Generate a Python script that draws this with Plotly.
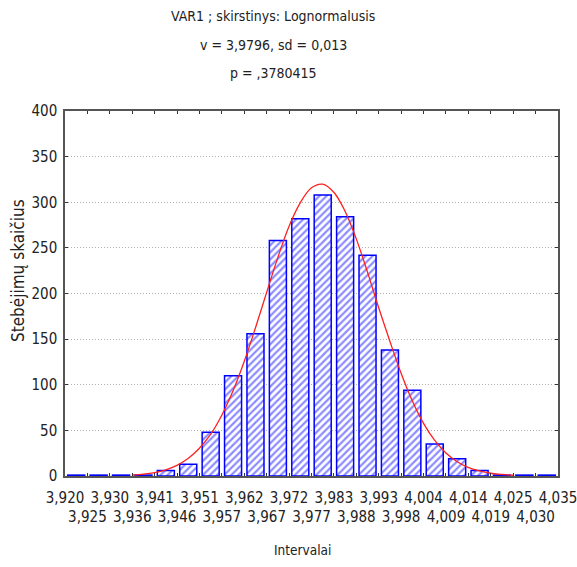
import plotly.graph_objects as go

# Bin boundaries (intervals) and their printed labels
bin_edges = [3.92 + k * 0.115 / 22 for k in range(23)]
edge_labels = ["3,920", "3,925", "3,930", "3,936", "3,941", "3,946", "3,951", "3,957",
               "3,962", "3,967", "3,972", "3,977", "3,983", "3,988", "3,993", "3,998",
               "4,004", "4,009", "4,014", "4,019", "4,025", "4,030", "4,035"]

# Observed counts per interval
counts = [1, 1, 1, 1, 6, 13, 48, 110, 156, 258, 282, 308, 284, 242, 138, 94, 35, 19, 6, 1, 1, 1]

# Fitted lognormal curve
curve_x = [3.9357, 3.9383, 3.9409, 3.9435, 3.9461, 3.9487, 3.9513, 3.9540, 3.9566,
           3.9592, 3.9618, 3.9644, 3.9670, 3.9696, 3.9722, 3.9749, 3.9775, 3.9801,
           3.9827, 3.9853, 3.9879, 3.9905, 3.9931, 3.9958, 3.9984, 4.0010, 4.0036,
           4.0062, 4.0088, 4.0114, 4.0140, 4.0167, 4.0193, 4.0219, 4.0245]
curve_y = [1.1, 2.1, 3.8, 6.8, 11.7, 19.2, 30.2, 45.9, 66.9, 93.4, 125.5, 162.0,
           200.7, 238.8, 273.0, 299.6, 315.9, 319.8, 310.9, 290.4, 260.4, 224.3,
           185.5, 147.4, 112.5, 82.4, 58.0, 39.2, 25.5, 15.9, 9.5, 5.5, 3.0, 1.8, 0.8]

title_lines = ["VAR1 ; skirstinys: Lognormalusis", "v = 3,9796, sd = 0,013", "p = ,3780415"]
x_title = "Intervalai"
y_title = "Stebėjimų skaičius"

FONT = "Liberation Sans Narrow, Arial Narrow, DejaVu Sans Condensed, sans-serif"

centers = [(bin_edges[i] + bin_edges[i + 1]) / 2 for i in range(len(counts))]
width = bin_edges[1] - bin_edges[0]

fig = go.Figure()
fig.add_trace(go.Bar(
    x=centers, y=counts, width=width * 0.76,
    marker=dict(color="white",
                line=dict(color="#0000ff", width=1.5),
                pattern=dict(shape="/", fgcolor="#1a1aff", bgcolor="white",
                             size=5, solidity=0.45)),
    showlegend=False,
))
fig.add_trace(go.Scatter(
    x=curve_x, y=curve_y, mode="lines", line=dict(color="#ff2020", width=1.3),
    line_shape="spline", showlegend=False,
))

ticktext = [lab if i % 2 == 0 else "<br>" + lab for i, lab in enumerate(edge_labels)]

fig.update_layout(
    width=577, height=567,
    margin=dict(l=65, r=19, t=111, b=91, autoexpand=False),
    plot_bgcolor="white", paper_bgcolor="white",
    font=dict(family=FONT, size=15, color="#222"),
    xaxis=dict(range=[bin_edges[0] - 1e-6, bin_edges[-1] + 1e-6], tickvals=bin_edges,
               ticktext=ticktext, tickangle=0, showgrid=False, zeroline=False,
               showline=True, linecolor="#555", linewidth=1.5, mirror="ticks",
               ticks="inside", ticklen=3, tickcolor="#333", ticklabelstandoff=7,
               ticklabeloverflow="allow", automargin=False, tickfont=dict(size=15)),
    yaxis=dict(range=[0, 400], tickvals=[0, 50, 100, 150, 200, 250, 300, 350, 400],
               showgrid=True, gridcolor="#b0b0b0", griddash="1px,2px", gridwidth=1,
               zeroline=False, showline=True, linecolor="#555", linewidth=1.5,
               mirror="ticks", ticks="inside", ticklen=3, tickcolor="#333",
               ticklabelstandoff=3, automargin=False, tickfont=dict(size=15)),
)

for yv, txt in zip([1.260, 1.181, 1.104], title_lines):
    fig.add_annotation(text=txt, xref="paper", yref="paper", x=0.422, y=yv,
                       xanchor="center", yanchor="middle", showarrow=False,
                       font=dict(family=FONT, size=14, color="#222"))

fig.add_annotation(text=x_title, xref="paper", yref="paper", x=0.482, y=-0.203,
                   xanchor="center", yanchor="middle", showarrow=False,
                   font=dict(family=FONT, size=13.5, color="#222"))
fig.add_annotation(text=y_title, xref="paper", yref="paper", x=-0.095, y=0.562,
                   xanchor="center", yanchor="middle", showarrow=False, textangle=-90,
                   font=dict(family=FONT, size=17, color="#222"))

fig.write_html("out.html")
